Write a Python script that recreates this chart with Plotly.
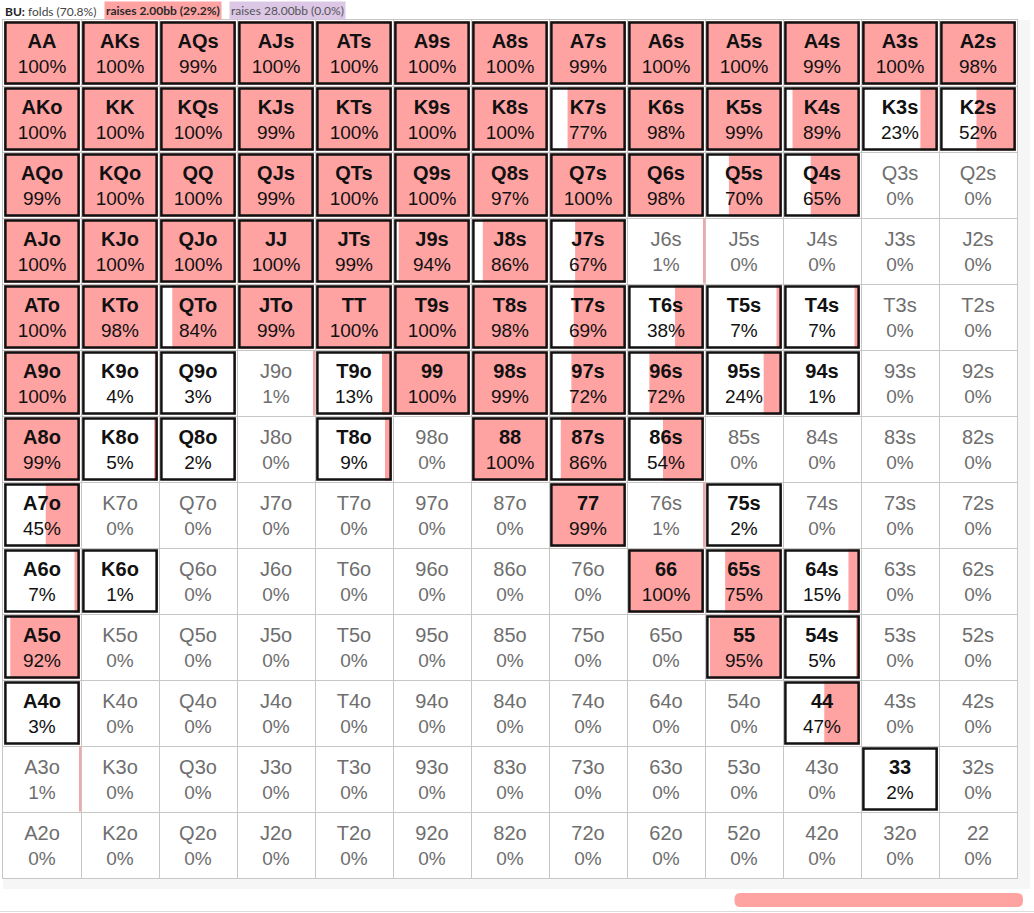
import plotly.graph_objects as go

W, H = 1034, 913

ranks = ["A", "K", "Q", "J", "T", "9", "8", "7", "6", "5", "4", "3", "2"]

# raise 2.00bb frequency (%), one list per row, suited hands above the diagonal
pct_A = [100, 100, 99, 100, 100, 100, 100, 99, 100, 100, 99, 100, 98]
pct_K = [100, 100, 100, 99, 100, 100, 100, 77, 98, 99, 89, 23, 52]
pct_Q = [99, 100, 100, 99, 100, 100, 97, 100, 98, 70, 65, 0, 0]
pct_J = [100, 100, 100, 100, 99, 94, 86, 67, 1, 0, 0, 0, 0]
pct_T = [100, 98, 84, 99, 100, 100, 98, 69, 38, 7, 7, 0, 0]
pct_9 = [100, 4, 3, 1, 13, 100, 99, 72, 72, 24, 1, 0, 0]
pct_8 = [99, 5, 2, 0, 9, 0, 100, 86, 54, 0, 0, 0, 0]
pct_7 = [45, 0, 0, 0, 0, 0, 0, 99, 1, 2, 0, 0, 0]
pct_6 = [7, 1, 0, 0, 0, 0, 0, 0, 100, 75, 15, 0, 0]
pct_5 = [92, 0, 0, 0, 0, 0, 0, 0, 0, 95, 5, 0, 0]
pct_4 = [3, 0, 0, 0, 0, 0, 0, 0, 0, 0, 47, 0, 0]
pct_3 = [1, 0, 0, 0, 0, 0, 0, 0, 0, 0, 0, 2, 0]
pct_2 = [0, 0, 0, 0, 0, 0, 0, 0, 0, 0, 0, 0, 0]
grid = [pct_A, pct_K, pct_Q, pct_J, pct_T, pct_9, pct_8, pct_7, pct_6, pct_5, pct_4, pct_3, pct_2]

# 1% hands that are still played (boxed)
boxed_small = ["94s", "K6o"]

header_pos = "BU:"
folds_pct = 70.8
raise_small = ("raises 2.00bb", 29.2)
raise_big = ("raises 28.00bb", 0.0)

PINK = "#ffa2a2"
LAV = "#dcc7e6"

# pixel layout
GX0, GX1, GY0, GY1 = 3, 1017, 20, 878
CW = (GX1 - GX0) / 13
CH = (GY1 - GY0) / 13


def px(x):
    return x / W


def py(y):
    return 1 - y / H


def hand(r, c):
    if r == c:
        return ranks[r] * 2
    if c > r:
        return ranks[r] + ranks[c] + "s"
    return ranks[c] + ranks[r] + "o"


fig = go.Figure()

# pink fills, anchored to the right side of each cell
bx, bw, bb, bh = [], [], [], []
on_x, on_y1, on_y2, on_t, on_p = [], [], [], [], []
off_x, off_y1, off_y2, off_t, off_p = [], [], [], [], []
shapes = []
LAB_Y, PCT_Y = 0.355, 0.73
for r in range(13):
    for c in range(13):
        h = hand(r, c)
        p = grid[r][c]
        boxed = p >= 2 or h in boxed_small
        ix = (1.2 if boxed else 0.5) / CW
        iy = (1.2 if boxed else 0.5) / CH
        inner = 1 - 2 * ix
        wfill = inner * p / 100
        if wfill > 0:
            bx.append(r + 0.5)
            bw.append(wfill)
            bb.append(c + 1 - ix - wfill)
            bh.append(1 - 2 * iy)
        if boxed:
            on_x.append(c + 0.5)
            on_y1.append(r + LAB_Y)
            on_y2.append(r + PCT_Y)
            on_t.append(h)
            on_p.append(f"{p}%")
            ox, oy = 2.4 / CW, 2.4 / CH
            shapes.append(dict(type="rect", xref="x", yref="y",
                               x0=c + ox, x1=c + 1 - ox, y0=r + oy, y1=r + 1 - oy,
                               line=dict(color="#111111", width=2.5), layer="above"))
        else:
            off_x.append(c + 0.5)
            off_y1.append(r + LAB_Y)
            off_y2.append(r + PCT_Y)
            off_t.append(h)
            off_p.append(f"{p}%")

fig.add_trace(go.Bar(orientation="h", y=bx, x=bw, base=bb, width=bh,
                     marker=dict(color=PINK, line=dict(width=0)),
                     hoverinfo="skip", showlegend=False))

CELL_FONT = "Liberation Sans, Arial, sans-serif"
fig.add_trace(go.Scatter(x=on_x, y=on_y1, text=on_t, mode="text",
                         textfont=dict(family=CELL_FONT, size=20, color="#111111", weight="bold"),
                         hoverinfo="skip", showlegend=False))
fig.add_trace(go.Scatter(x=on_x, y=on_y2, text=on_p, mode="text",
                         textfont=dict(family=CELL_FONT, size=19, color="#111111"),
                         hoverinfo="skip", showlegend=False))
fig.add_trace(go.Scatter(x=off_x, y=off_y1, text=off_t, mode="text",
                         textfont=dict(family=CELL_FONT, size=20, color="#6e6e6e"),
                         hoverinfo="skip", showlegend=False))
fig.add_trace(go.Scatter(x=off_x, y=off_y2, text=off_p, mode="text",
                         textfont=dict(family=CELL_FONT, size=19, color="#6e6e6e"),
                         hoverinfo="skip", showlegend=False))

# grey panel around the grid
shapes.append(dict(type="rect", xref="paper", yref="paper", layer="below",
                   x0=px(GX1), x1=px(1030), y0=py(889), y1=py(GY0),
                   fillcolor="#f6f6f6", line=dict(width=0)))
shapes.append(dict(type="rect", xref="paper", yref="paper", layer="below",
                   x0=px(GX0), x1=px(GX1), y0=py(889), y1=py(GY1),
                   fillcolor="#f6f6f6", line=dict(width=0)))
# bottom separator
shapes.append(dict(type="line", xref="paper", yref="paper",
                   x0=0, x1=1, y0=py(911.5), y1=py(911.5),
                   line=dict(color="#dddddd", width=1)))
# raise share bar at the bottom
bar_r = 1023
bar_l = bar_r - raise_small[1] / 100 * 988
y0b, y1b, rad = 893, 907, 6
path = (f"M {px(bar_l + rad)} {py(y0b)} L {px(bar_r - rad)} {py(y0b)} "
        f"Q {px(bar_r)} {py(y0b)} {px(bar_r)} {py(y0b + rad)} "
        f"L {px(bar_r)} {py(y1b - rad)} Q {px(bar_r)} {py(y1b)} {px(bar_r - rad)} {py(y1b)} "
        f"L {px(bar_l + rad)} {py(y1b)} Q {px(bar_l)} {py(y1b)} {px(bar_l)} {py(y1b - rad)} "
        f"L {px(bar_l)} {py(y0b + rad)} Q {px(bar_l)} {py(y0b)} {px(bar_l + rad)} {py(y0b)} Z")
shapes.append(dict(type="path", xref="paper", yref="paper", path=path,
                   fillcolor=PINK, line=dict(width=0)))

HEAD_FONT = "Lato, Noto Sans, sans-serif"
HEAD_SIZE = 12
annotations = [
    dict(xref="paper", yref="paper", x=px(3), y=py(11), xanchor="left", yanchor="middle",
         text=f"<b>{header_pos}</b> <span style='color:#444444'>folds ({folds_pct:.1f}%)</span>",
         showarrow=False,
         font=dict(family=HEAD_FONT, size=HEAD_SIZE, color="#222222")),
    dict(xref="paper", yref="paper", x=px(104), y=py(10.5), xanchor="left", yanchor="middle",
         text=f"<b>{raise_small[0]} ({raise_small[1]:.1f}%)</b>", showarrow=False,
         bgcolor=PINK, borderpad=1,
         font=dict(family=HEAD_FONT, size=HEAD_SIZE, color="#2a2a2a")),
    dict(xref="paper", yref="paper", x=px(229), y=py(10.5), xanchor="left", yanchor="middle",
         text=f"{raise_big[0]} ({raise_big[1]:.1f}%)", showarrow=False,
         bgcolor=LAV, borderpad=1,
         font=dict(family=HEAD_FONT, size=HEAD_SIZE, color="#555555")),
]

axis_common = dict(showgrid=True, gridcolor="#c6c6c6", gridwidth=1, tick0=0, dtick=1,
                   showticklabels=False, ticks="", zeroline=False,
                   showline=True, mirror=True, linecolor="#c6c6c6", linewidth=1,
                   fixedrange=True)
fig.update_layout(
    width=W, height=H,
    margin=dict(l=0, r=0, t=0, b=0),
    paper_bgcolor="white", plot_bgcolor="white",
    barmode="overlay",
    xaxis=dict(range=[0, 13], domain=[px(GX0), px(GX1)], **axis_common),
    yaxis=dict(range=[13, 0], domain=[py(GY1), py(GY0)], **axis_common),
    shapes=shapes,
    annotations=annotations,
)

fig.write_html("out.html", config={"displayModeBar": False},
               post_script="document.body.style.margin='0';document.body.style.overflow='hidden';")
